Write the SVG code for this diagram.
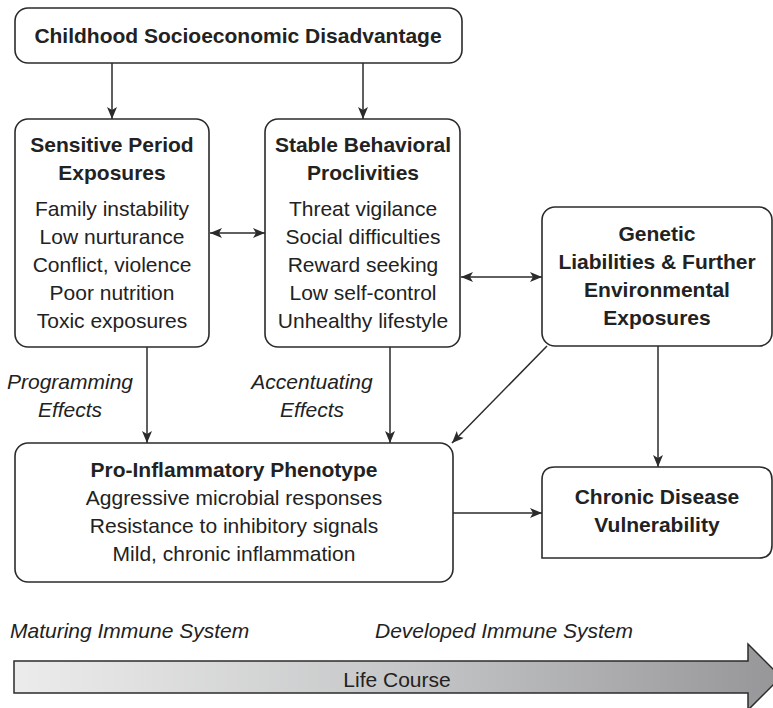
<svg xmlns="http://www.w3.org/2000/svg" width="773" height="708" viewBox="0 0 773 708">
<style>
.box{fill:#fff;stroke:#2b2b2b;stroke-width:1.6}
.t{font-family:"Liberation Sans",Arial,sans-serif;font-size:21px;fill:#222;text-anchor:middle}
.b{font-weight:bold}
.i{font-style:italic}
.c{stroke:#2b2b2b;stroke-width:1.5;fill:none}
</style>
<defs>
<marker id="ah" viewBox="0 0 12 10" refX="12" refY="5" markerWidth="12" markerHeight="10" markerUnits="userSpaceOnUse" orient="auto-start-reverse">
<path d="M0,0 L12,5 L0,10 L3,5 Z" fill="#2b2b2b"/>
</marker>
<linearGradient id="lg" x1="0" y1="0" x2="1" y2="0">
<stop offset="0" stop-color="#ececec"/>
<stop offset="0.5" stop-color="#c6c7c8"/>
<stop offset="1" stop-color="#969698"/>
</linearGradient>
</defs>
<g id="connectors">
<line class="c" x1="112" y1="63" x2="112" y2="119" marker-end="url(#ah)"/>
<line class="c" x1="363" y1="63" x2="363" y2="119" marker-end="url(#ah)"/>
<line class="c" x1="210" y1="233" x2="265" y2="233" marker-start="url(#ah)" marker-end="url(#ah)"/>
<line class="c" x1="461" y1="277" x2="542" y2="277" marker-start="url(#ah)" marker-end="url(#ah)"/>
<line class="c" x1="147" y1="347" x2="147" y2="443" marker-end="url(#ah)"/>
<line class="c" x1="390" y1="347" x2="390" y2="443" marker-end="url(#ah)"/>
<line class="c" x1="547" y1="346" x2="452" y2="443" marker-end="url(#ah)"/>
<line class="c" x1="658" y1="346" x2="658" y2="467" marker-end="url(#ah)"/>
<line class="c" x1="453" y1="513" x2="542" y2="513" marker-end="url(#ah)"/>
</g>
<g id="childhood">
<rect class="box" x="15" y="8" width="447" height="55" rx="13"/>
<text class="t b" x="238" y="43">Childhood Socioeconomic Disadvantage</text>
</g>
<g id="sensitive">
<rect class="box" x="15" y="119" width="194" height="228" rx="13"/>
<text class="t b" x="112" y="152">Sensitive Period</text>
<text class="t b" x="112" y="180">Exposures</text>
<text class="t" x="112" y="216">Family instability</text>
<text class="t" x="112" y="244">Low nurturance</text>
<text class="t" x="112" y="272">Conflict, violence</text>
<text class="t" x="112" y="300">Poor nutrition</text>
<text class="t" x="112" y="328">Toxic exposures</text>
</g>
<g id="stable">
<rect class="box" x="265" y="119" width="195" height="228" rx="13"/>
<text class="t b" x="363" y="152">Stable Behavioral</text>
<text class="t b" x="363" y="180">Proclivities</text>
<text class="t" x="363" y="216">Threat vigilance</text>
<text class="t" x="363" y="244">Social difficulties</text>
<text class="t" x="363" y="272">Reward seeking</text>
<text class="t" x="363" y="300">Low self-control</text>
<text class="t" x="363" y="328">Unhealthy lifestyle</text>
</g>
<g id="genetic">
<rect class="box" x="542" y="207" width="230" height="139" rx="13"/>
<text class="t b" x="657" y="241">Genetic</text>
<text class="t b" x="657" y="269">Liabilities &amp; Further</text>
<text class="t b" x="657" y="297">Environmental</text>
<text class="t b" x="657" y="325">Exposures</text>
</g>
<g id="labels">
<text class="t i" x="70" y="389">Programming</text>
<text class="t i" x="70" y="417">Effects</text>
<text class="t i" x="312" y="389">Accentuating</text>
<text class="t i" x="312" y="417">Effects</text>
</g>
<g id="proinflammatory">
<rect class="box" x="15" y="443" width="438" height="139" rx="13"/>
<text class="t b" x="234" y="477">Pro-Inflammatory Phenotype</text>
<text class="t" x="234" y="505">Aggressive microbial responses</text>
<text class="t" x="234" y="533">Resistance to inhibitory signals</text>
<text class="t" x="234" y="561">Mild, chronic inflammation</text>
</g>
<g id="chronic">
<path class="box" d="M542,558 L542,480 Q542,467 555,467 L759,467 Q772,467 772,480 L772,545 Q772,558 759,558 Z"/>
<text class="t b" x="657" y="504">Chronic Disease</text>
<text class="t b" x="657" y="532">Vulnerability</text>
</g>
<g id="lifecourse">
<text class="t i" x="10" y="638" style="text-anchor:start">Maturing Immune System</text>
<text class="t i" x="375" y="638" style="text-anchor:start">Developed Immune System</text>
<path d="M14,661 L748,661 L748,644 L781,677 L748,710 L748,693 L14,693 Z" fill="url(#lg)" stroke="#2b2b2b" stroke-width="1.5"/>
<text class="t" x="397" y="687">Life Course</text>
</g>
</svg>
